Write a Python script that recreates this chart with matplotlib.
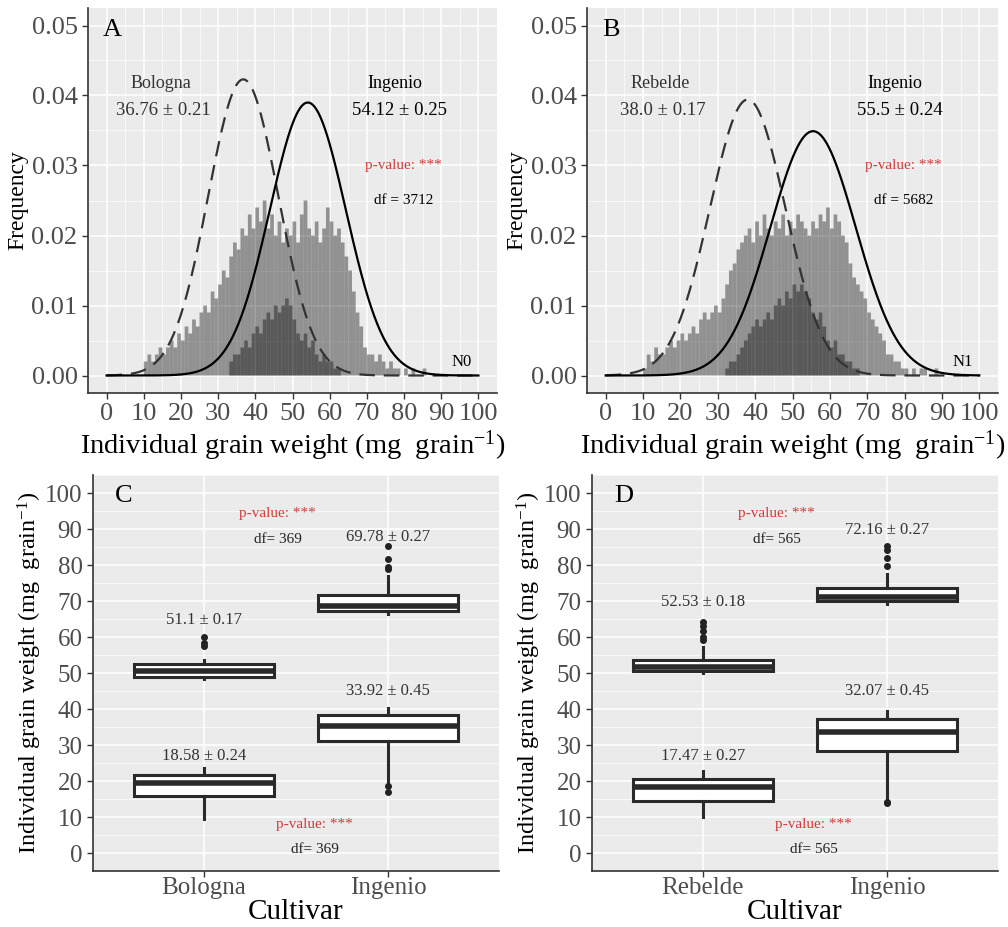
import numpy as np
import matplotlib
matplotlib.use("Agg")
import matplotlib.pyplot as plt
from matplotlib.ticker import MultipleLocator

plt.rcParams['font.family'] = ['Liberation Serif', 'DejaVu Serif']
plt.rcParams['mathtext.fontset'] = 'custom'
plt.rcParams['mathtext.rm'] = 'Liberation Serif'
plt.rcParams['mathtext.it'] = 'Liberation Serif:italic'

# ---- histogram data (density per 1 mg bin) ----
bologna_a_start = 10
bologna_a = [0.002, 0.003, 0.002, 0.003, 0.004, 0.003, 0.004, 0.005, 0.004, 0.006,
             0.005, 0.007, 0.006, 0.008, 0.007, 0.009, 0.010, 0.009, 0.012, 0.011,
             0.013, 0.015, 0.014, 0.017, 0.019, 0.018, 0.021, 0.020, 0.023, 0.021,
             0.024, 0.022, 0.025, 0.021, 0.023, 0.020, 0.022, 0.019,
             0.011, 0.010, 0.008, 0.006, 0.005, 0.006, 0.004, 0.005, 0.003, 0.002,
             0.003, 0.002, 0.002, 0.001, 0.001]
ingenio_a_start = 33
ingenio_a = [0.002, 0.003, 0.003, 0.004, 0.005, 0.004, 0.006, 0.007, 0.006, 0.008,
             0.009, 0.008, 0.010, 0.009, 0.010,
             0.021, 0.020, 0.022, 0.019, 0.023, 0.025, 0.021, 0.020, 0.022, 0.019,
             0.021, 0.024, 0.022, 0.020, 0.021, 0.019, 0.017, 0.015, 0.012, 0.009,
             0.007, 0.004, 0.003, 0.003, 0.002, 0.003, 0.002, 0.001, 0.002, 0.001,
             0.001, 0.000, 0.001, 0.000, 0.001, 0.000, 0.000, 0.001]

rebelde_b_start = 10
rebelde_b = [0.001, 0.003, 0.002, 0.004, 0.003, 0.003, 0.004, 0.005, 0.004, 0.005,
             0.006, 0.005, 0.006, 0.007, 0.006, 0.008, 0.009, 0.008, 0.009, 0.010,
             0.009, 0.011, 0.013, 0.015, 0.016, 0.018, 0.019, 0.020, 0.021, 0.019,
             0.022, 0.020, 0.023, 0.021, 0.020, 0.022, 0.021, 0.023, 0.020, 0.022, 0.021,
             0.012, 0.013, 0.012, 0.011, 0.009, 0.008, 0.009, 0.007, 0.005, 0.004,
             0.005, 0.003, 0.003, 0.002, 0.002, 0.001, 0.001]
ingenio_b_start = 32
ingenio_b = [0.001, 0.002, 0.002, 0.003, 0.004, 0.005, 0.006, 0.007, 0.008, 0.007,
             0.008, 0.009, 0.008, 0.010, 0.011, 0.010, 0.012, 0.011, 0.013,
             0.023, 0.022, 0.021, 0.020, 0.022, 0.021, 0.023, 0.022, 0.024, 0.021,
             0.023, 0.022, 0.020, 0.019, 0.016, 0.014, 0.013, 0.012, 0.011, 0.009,
             0.008, 0.007, 0.006, 0.005, 0.003, 0.003, 0.002, 0.002, 0.001, 0.001,
             0.000, 0.001, 0.000, 0.001, 0.001, 0.000, 0.000, 0.001]

# normal fits (mean, sd)
fit_a = {"Bologna": (36.76, 9.43), "Ingenio": (54.12, 10.23)}
fit_b = {"Rebelde": (38.0, 10.12), "Ingenio": (55.5, 11.43)}

# ---- boxplot data ----
cultivars_c = ["Bologna", "Ingenio"]
cultivars_d = ["Rebelde", "Ingenio"]
# each: (whislo, q1, med, q3, whishi, fliers)
box_c_high = [(48.4, 49.0, 50.6, 52.5, 53.5, [57.6, 58.2, 59.9]),
              (66.4, 67.3, 68.5, 71.6, 77.0, [78.9, 79.4, 81.8, 85.3])]
box_c_low = [(9.4, 15.85, 19.35, 21.75, 23.5, []),
             (19.8, 31.05, 35.3, 38.25, 40.4, [17.0, 18.6])]
box_d_high = [(50.0, 50.5, 51.8, 53.7, 57.1, [59.3, 60.1, 61.8, 63.1, 64.1]),
              (69.1, 70.1, 71.2, 73.5, 77.6, [79.6, 82.0, 84.1, 85.3])]
box_d_low = [(9.9, 14.4, 18.25, 20.55, 22.9, []),
             (14.7, 28.4, 33.7, 37.2, 39.4, [13.8, 14.3])]

labels_c = [("51.1 ± 0.17", 1, 64.7), ("18.58 ± 0.24", 1, 26.9),
            ("69.78 ± 0.27", 2, 87.7), ("33.92 ± 0.45", 2, 45.0)]
labels_d = [("52.53 ± 0.18", 1, 69.8), ("17.47 ± 0.27", 1, 26.9),
            ("72.16 ± 0.27", 2, 89.7), ("32.07 ± 0.45", 2, 45.0)]

W, H = 1008, 927
fig = plt.figure(figsize=(W / 100, H / 100), dpi=100)
fig.patch.set_facecolor("white")

RED = "#d43a3a"
TICKC = "#4d4d4d"
XLAB = "Individual grain weight (mg  grain$^{-1}$)"


def px_axes(x0, y0, x1, y1):
    return fig.add_axes([x0 / W, 1 - y1 / H, (x1 - x0) / W, (y1 - y0) / H])


def style(ax):
    ax.set_facecolor("#ebebeb")
    for s in ["top", "right"]:
        ax.spines[s].set_visible(False)
    for s in ["left", "bottom"]:
        ax.spines[s].set_color("#333333")
        ax.spines[s].set_linewidth(1.2)
    ax.grid(which="major", color="white", linewidth=1.1)
    ax.grid(which="minor", color="white", linewidth=0.5)
    ax.set_axisbelow(True)
    ax.tick_params(which="major", length=4, width=1, color="#333333", labelcolor=TICKC)
    ax.tick_params(which="minor", length=0)


def hist_panel(ax, left, lstart, right, rstart, fits, letter, nlab, stats, df):
    style(ax)
    for vals, st in [(left, lstart), (right, rstart)]:
        xs = st + np.arange(len(vals)) + 0.5
        ax.bar(xs, vals, width=1.0, color="black", alpha=0.38, linewidth=0, snap=False)
    xx = np.linspace(0, 100, 500)
    (n1, (m1, s1)), (n2, (m2, s2)) = list(fits.items())
    ax.plot(xx, np.exp(-0.5 * ((xx - m1) / s1) ** 2) / (s1 * np.sqrt(2 * np.pi)),
            color="#333333", lw=1.6, dashes=(7, 4))
    ax.plot(xx, np.exp(-0.5 * ((xx - m2) / s2) ** 2) / (s2 * np.sqrt(2 * np.pi)),
            color="black", lw=1.6)
    ax.set_xlim(-5, 105)
    ax.set_ylim(-0.0025, 0.0525)
    ax.xaxis.set_major_locator(MultipleLocator(10))
    ax.xaxis.set_minor_locator(MultipleLocator(5))
    ax.yaxis.set_major_locator(MultipleLocator(0.01))
    ax.yaxis.set_minor_locator(MultipleLocator(0.005))
    ax.yaxis.set_major_formatter(lambda v, p: f"{v:.2f}")
    ax.tick_params(axis="both", labelsize=19)
    ax.set_xlabel(XLAB, fontsize=20.5, labelpad=2)
    ax.set_ylabel("Frequency", fontsize=17, labelpad=2)
    ax.text(-1, 0.0493, letter, fontsize=19, ha="left", va="center")
    ax.text(14.5, 0.0417, n1, fontsize=13, ha="center", va="center", color="#333333")
    ax.text(15.3, 0.0379, stats[0], fontsize=13.5, ha="center", va="center", color="#333333")
    ax.text(77.4, 0.0417, n2, fontsize=13, ha="center", va="center", color="black")
    ax.text(78.8, 0.0379, stats[1], fontsize=13.5, ha="center", va="center", color="black")
    ax.text(79.8, 0.0300, "p-value: ***", fontsize=11, ha="center", va="center", color=RED)
    ax.text(79.8, 0.0250, df, fontsize=11, ha="center", va="center", color="black")
    ax.text(95.5, 0.0020, nlab, fontsize=12, ha="center", va="center", color="black")


def box_panel(ax, cats, high, low, labels, letter, df):
    style(ax)
    stats = []
    for grp in (high, low):
        for i, (wl, q1, med, q3, wh, fl) in enumerate(grp):
            stats.append(dict(whislo=wl, q1=q1, med=med, q3=q3, whishi=wh, fliers=fl))
    pos = [1, 2, 1, 2]
    ax.bxp(stats, positions=pos, widths=0.76, patch_artist=True,
           boxprops=dict(facecolor="white", edgecolor="#2a2a2a", linewidth=2.2),
           medianprops=dict(color="#2a2a2a", linewidth=4),
           whiskerprops=dict(color="#2a2a2a", linewidth=2.2),
           capprops=dict(linewidth=0),
           flierprops=dict(marker="o", markerfacecolor="#222222",
                           markeredgecolor="#222222", markersize=4))
    ax.set_xlim(0.4, 2.6)
    ax.set_ylim(-5, 105)
    ax.set_xticks([1, 2])
    ax.set_xticklabels(cats)
    ax.yaxis.set_major_locator(MultipleLocator(10))
    ax.yaxis.set_minor_locator(MultipleLocator(5))
    ax.tick_params(axis="x", labelsize=18, pad=0)
    ax.tick_params(axis="y", labelsize=18)
    ax.set_xlabel("Cultivar", fontsize=21, labelpad=0)
    ax.set_ylabel(XLAB, fontsize=17.5, labelpad=1)
    for t, x, y in labels:
        ax.text(x, y, t, fontsize=12, ha="center", va="center", color="#333333")
    ax.text(0.52, 99.2, letter, fontsize=19, ha="left", va="center")
    ax.text(1.40, 94.2, "p-value: ***", fontsize=11, ha="center", va="center", color=RED)
    ax.text(1.40, 87.0, df, fontsize=11, ha="center", va="center", color="#222222")
    ax.text(1.60, 7.8, "p-value: ***", fontsize=11, ha="center", va="center", color=RED)
    ax.text(1.60, 0.9, df, fontsize=11, ha="center", va="center", color="#222222")


ax_a = px_axes(88, 8, 497, 393)
ax_b = px_axes(587, 8, 998, 393)
ax_c = px_axes(93, 475, 499, 871)
ax_d = px_axes(592, 475, 998, 871)

hist_panel(ax_a, bologna_a, bologna_a_start, ingenio_a, ingenio_a_start, fit_a,
           "A", "N0", ("36.76 ± 0.21", "54.12 ± 0.25"), "df = 3712")
hist_panel(ax_b, rebelde_b, rebelde_b_start, ingenio_b, ingenio_b_start, fit_b,
           "B", "N1", ("38.0 ± 0.17", "55.5 ± 0.24"), "df = 5682")
box_panel(ax_c, cultivars_c, box_c_high, box_c_low, labels_c, "C", "df= 369")
box_panel(ax_d, cultivars_d, box_d_high, box_d_low, labels_d, "D", "df= 565")

fig.savefig("out.png", dpi=100)
